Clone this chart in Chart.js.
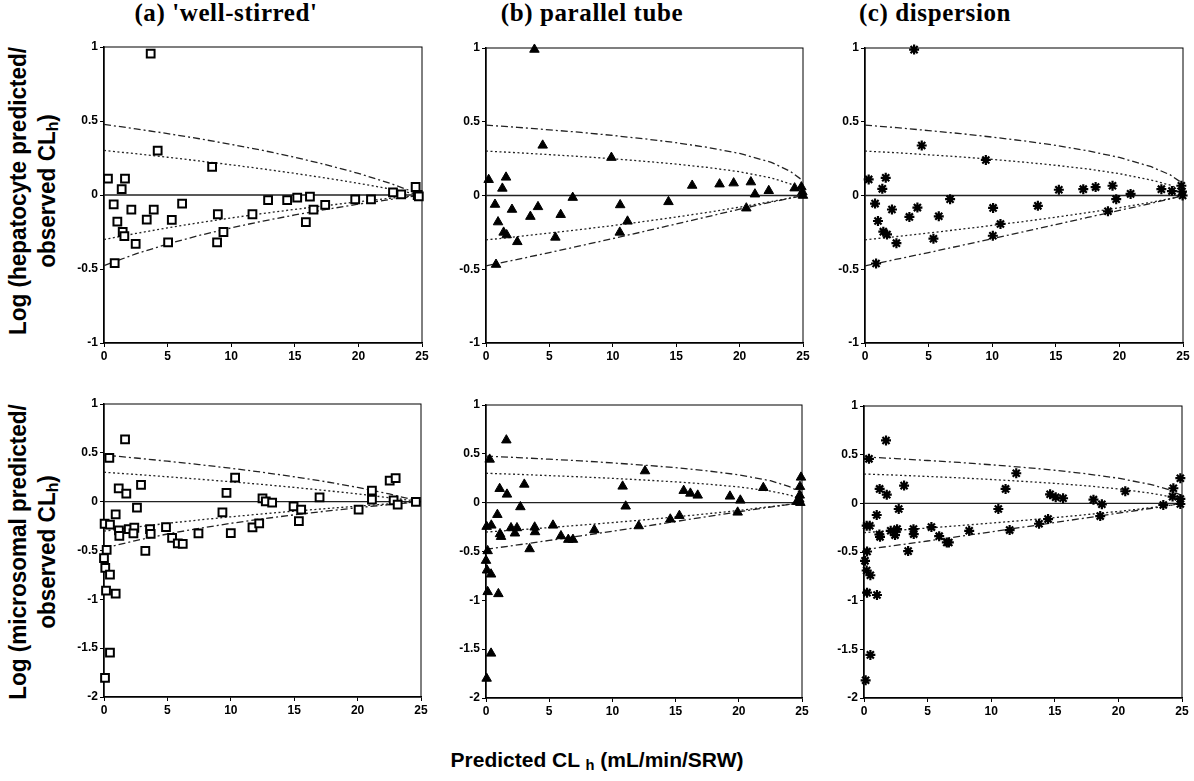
<!DOCTYPE html>
<html>
<head>
<meta charset="utf-8">
<script src="https://cdn.jsdelivr.net/npm/chart.js@4.4.1/dist/chart.umd.min.js"></script>
<style>
  body { margin:0; background:#fff; width:1194px; height:781px; position:relative; overflow:hidden;
         font-family:"Liberation Sans", Arial, sans-serif; color:#000; }
  canvas { position:absolute; }
  .title { position:absolute; top:-1px; font-family:"Liberation Serif", "Times New Roman", serif; font-weight:bold;
           font-size:25px; letter-spacing:0.6px; white-space:nowrap; transform:translateX(-50%); }
  .ylab { position:absolute; font-weight:bold; font-size:23px; line-height:29px; text-align:center; white-space:nowrap;
          transform:translate(-50%,-50%) rotate(-90deg) scaleX(0.98); }
  .xlab { position:absolute; left:597px; top:748px; font-weight:bold; font-size:21px; white-space:nowrap;
          transform:translateX(-50%); }
  sub { font-size:70%; vertical-align:-3px; }
</style>
</head>
<body>

<div class="title" style="left:226px">(a) 'well-stirred'</div>
<div class="title" style="left:592px">(b) parallel tube</div>
<div class="title" style="left:935px">(c) dispersion</div>

<div class="ylab" style="left:35px; top:191px">Log (hepatocyte predicted/<br>observed CL<sub>h</sub>)</div>
<div class="ylab" style="left:35px; top:552px">Log (microsomal predicted/<br>observed CL<sub>h</sub>)</div>
<div class="xlab">Predicted CL <sub>h</sub> (mL/min/SRW)</div>

<canvas id="pa"></canvas>
<canvas id="pb"></canvas>
<canvas id="pc"></canvas>
<canvas id="pd"></canvas>
<canvas id="pe"></canvas>
<canvas id="pf"></canvas>

<script>
// ---- tick labels ----
const xTicks = [0, 5, 10, 15, 20, 25];
const yTicksTop = [-1, -0.5, 0, 0.5, 1];
const yTicksBottom = [-2, -1.5, -1, -0.5, 0, 0.5, 1];

// ---- reference curves (2-fold and 3-fold limits) ----
const wsX   = [0, 2.5, 5, 7.5, 10, 12.5, 15, 17.5, 20, 22.5, 25];
const ws3Up = [0.477, 0.447, 0.415, 0.380, 0.342, 0.301, 0.255, 0.204, 0.146, 0.079, 0];
const ws2Up = [0.301, 0.279, 0.255, 0.230, 0.204, 0.176, 0.146, 0.114, 0.079, 0.041, 0];
const ws2Lo = [-0.301, -0.260, -0.222, -0.187, -0.155, -0.125, -0.097, -0.071, -0.046, -0.022, 0];
const ws3Lo = [-0.477, -0.398, -0.331, -0.273, -0.222, -0.176, -0.135, -0.097, -0.062, -0.030, 0];

const ptX   = [0, 2.5, 5, 7.5, 10, 12.5, 15, 17.5, 20, 22.5, 24, 25];
const pt3Up = [0.477, 0.462, 0.445, 0.428, 0.407, 0.384, 0.358, 0.326, 0.285, 0.225, 0.164, 0.10];
const pt2Up = [0.301, 0.290, 0.277, 0.264, 0.249, 0.232, 0.213, 0.190, 0.161, 0.119, 0.079, 0.035];
const pt2Lo = [-0.301, -0.279, -0.255, -0.230, -0.204, -0.176, -0.146, -0.114, -0.079, -0.041, -0.017, 0];
const pt3Lo = [-0.477, -0.433, -0.387, -0.340, -0.292, -0.243, -0.193, -0.143, -0.093, -0.045, -0.018, 0];

const dmX   = [0, 2.5, 5, 7.5, 10, 12.5, 15, 17.5, 20, 22.5, 24, 25];
const dm3Up = [0.477, 0.460, 0.440, 0.420, 0.396, 0.370, 0.340, 0.303, 0.258, 0.195, 0.140, 0.08];
const dm2Up = [0.301, 0.290, 0.276, 0.262, 0.245, 0.226, 0.205, 0.180, 0.148, 0.105, 0.070, 0.03];
const dm2Lo = [-0.301, -0.278, -0.254, -0.229, -0.203, -0.176, -0.147, -0.116, -0.083, -0.046, -0.021, 0];
const dm3Lo = [-0.477, -0.432, -0.387, -0.340, -0.293, -0.245, -0.197, -0.149, -0.101, -0.053, -0.023, 0];

const zeroX = [0, 25];
const zeroY = [0, 0];

// ---- hepatocyte data ----
const aX = [3.67, 4.22, 8.50, 0.31, 1.65, 1.39, 0.76, 2.15, 3.91, 6.14, 1.05, 3.36, 5.33, 8.95, 11.67, 1.47, 1.60, 2.49, 5.04, 8.89, 9.39, 0.84, 12.9, 14.4, 15.19, 16.19, 16.47, 15.87, 17.39, 19.75, 20.99, 22.72, 23.37, 24.5, 24.66, 24.75];
const aY = [0.955, 0.30, 0.19, 0.11, 0.11, 0.04, -0.063, -0.099, -0.099, -0.058, -0.18, -0.166, -0.168, -0.13, -0.13, -0.25, -0.278, -0.33, -0.32, -0.32, -0.25, -0.46, -0.034, -0.034, -0.018, -0.011, -0.099, -0.184, -0.067, -0.029, -0.029, 0.018, 0.004, 0.054, 0.0, -0.01];

const bX = [3.82, 4.47, 9.89, 0.21, 1.58, 1.29, 0.71, 2.05, 4.1, 6.84, 0.95, 3.5, 5.89, 10.58, 11.16, 1.39, 1.63, 2.47, 5.47, 10.55, 0.79, 14.39, 16.26, 18.42, 19.53, 20.89, 21.21, 22.3, 20.53, 24.34, 24.87, 24.95, 25.0];
const bY = [0.99, 0.34, 0.257, 0.107, 0.123, 0.048, -0.061, -0.095, -0.077, -0.014, -0.18, -0.143, -0.13, -0.064, -0.175, -0.25, -0.268, -0.314, -0.284, -0.25, -0.468, -0.043, 0.068, 0.077, 0.084, 0.091, 0.009, 0.032, -0.086, 0.05, 0.057, 0.023, 0.0];

const cX = [3.86, 4.46, 9.5, 0.29, 1.63, 1.36, 0.79, 2.12, 4.12, 6.69, 1.02, 3.49, 5.8, 10.07, 10.65, 1.44, 1.73, 2.47, 5.38, 10.05, 0.87, 13.59, 15.24, 17.16, 18.13, 19.46, 19.75, 20.88, 19.1, 23.3, 24.13, 24.87, 24.92, 24.97];
const cY = [0.989, 0.339, 0.241, 0.109, 0.12, 0.045, -0.055, -0.095, -0.082, -0.025, -0.173, -0.145, -0.141, -0.084, -0.193, -0.245, -0.264, -0.323, -0.293, -0.273, -0.461, -0.07, 0.039, 0.043, 0.057, 0.066, -0.025, 0.011, -0.107, 0.043, 0.03, 0.066, 0.027, 0.0];

// ---- microsomal data ----
const dX = [1.66, 0.42, 10.34, 2.92, 1.16, 1.76, 9.66, 12.5, 12.76, 13.26, 17.0, 2.6, 0.92, 9.34, 14.95, 15.55, 15.37, 20.08, 21.13, 21.13, 22.53, 23.0, 22.84, 23.16, 24.6, 0.05, 0.47, 1.18, 1.21, 1.95, 2.39, 2.32, 3.63, 3.68, 4.89, 5.37, 5.82, 6.21, 7.45, 10.0, 11.71, 12.24, 3.26, 0.21, 0.0, 0.1, 0.47, 0.16, 0.92, 0.47, 0.08];
const dY = [0.637, 0.449, 0.247, 0.171, 0.137, 0.082, 0.089, 0.034, 0.003, -0.01, 0.045, -0.062, -0.13, -0.11, -0.048, -0.082, -0.199, -0.082, 0.113, 0.02, 0.216, 0.24, 0.014, -0.031, -0.003, -0.226, -0.236, -0.295, -0.35, -0.281, -0.267, -0.325, -0.281, -0.329, -0.26, -0.37, -0.428, -0.432, -0.325, -0.322, -0.264, -0.223, -0.503, -0.493, -0.579, -0.678, -0.747, -0.911, -0.942, -1.545, -1.805];

const eX = [1.61, 0.29, 12.58, 10.81, 3.03, 1.08, 1.66, 15.64, 16.17, 16.75, 19.3, 20.12, 21.94, 2.72, 11.05, 0.9, 0.05, 0.42, 1.98, 2.45, 2.29, 1.11, 1.19, 3.85, 3.88, 5.3, 5.93, 6.51, 6.88, 8.57, 3.45, 12.08, 14.58, 15.3, 19.91, 0.13, 0.0, 0.08, 0.4, 0.13, 0.98, 0.4, 0.05, 24.92, 24.84, 24.82, 24.79, 24.87, 24.6];
const eY = [0.64, 0.443, 0.324, 0.167, 0.187, 0.143, 0.085, 0.123, 0.095, 0.075, 0.065, 0.024, 0.153, -0.044, -0.037, -0.123, -0.245, -0.232, -0.259, -0.259, -0.313, -0.32, -0.348, -0.252, -0.3, -0.232, -0.341, -0.378, -0.378, -0.279, -0.474, -0.239, -0.17, -0.133, -0.099, -0.494, -0.593, -0.692, -0.733, -0.913, -0.934, -1.543, -1.80, 0.259, 0.164, 0.075, 0.034, 0.0, 0.01];

const fX = [1.73, 0.39, 11.97, 11.13, 3.15, 1.23, 1.79, 14.63, 15.07, 15.65, 18.04, 18.7, 20.54, 2.73, 10.56, 1.0, 0.21, 0.45, 2.1, 2.6, 2.44, 1.21, 1.26, 3.89, 3.91, 5.3, 5.91, 6.51, 6.67, 8.27, 3.47, 11.45, 13.76, 14.47, 18.57, 0.24, 0.08, 0.21, 0.5, 0.24, 1.02, 0.5, 0.13, 24.87, 24.32, 24.26, 23.53, 24.87, 24.87];
const fY = [0.646, 0.457, 0.309, 0.148, 0.182, 0.148, 0.089, 0.093, 0.062, 0.052, 0.038, -0.01, 0.124, -0.058, -0.058, -0.12, -0.23, -0.23, -0.282, -0.265, -0.326, -0.32, -0.344, -0.265, -0.316, -0.244, -0.337, -0.402, -0.402, -0.282, -0.491, -0.275, -0.21, -0.162, -0.131, -0.495, -0.591, -0.69, -0.739, -0.918, -0.942, -1.557, -1.818, 0.258, 0.155, 0.069, -0.017, 0.045, -0.007];

// ---- layout ----
const YW = 46, PT = 10, PR = 10, XH = 26;
const DASH_DOT = [7, 3, 2, 3];
const DOTTED = [2, 2.5];
const TICK_FONT = { family: '"Liberation Sans", Arial, sans-serif', size: 12, weight: 'bold' };

const markers = {
  square:   { pointStyle: 'rect', pointRadius: 5.5, pointBorderWidth: 2, pointBorderColor: '#000', pointBackgroundColor: '#fff' },
  triangle: { pointStyle: 'triangle', pointRadius: 5.5, pointBorderWidth: 1, pointBorderColor: '#000', pointBackgroundColor: '#000' },
  star:     { pointStyle: 'star', pointRadius: 5, pointBorderWidth: 2.2, pointBorderColor: '#000', pointBackgroundColor: '#000' }
};

const toPts = (xs, ys) => xs.map((x, i) => ({ x: x, y: ys[i] }));

function curve(xs, ys, dash) {
  return {
    data: toPts(xs, ys), showLine: true, borderColor: '#222', borderWidth: 1.3,
    borderDash: dash, pointRadius: 0, fill: false, clip: false
  };
}

const framePlugin = {
  id: 'frame',
  beforeDatasetsDraw(chart) {
    const { ctx, chartArea: a } = chart;
    ctx.save();
    ctx.strokeStyle = '#000';
    ctx.lineWidth = 1;
    ctx.strokeRect(a.left, a.top, a.right - a.left, a.bottom - a.top);
    ctx.restore();
  }
};

function panel(id, box, xs, ys, marker, curves, yTicks) {
  const cv = document.getElementById(id);
  const w = (box.r - box.l) + YW + PR;
  const h = (box.b - box.t) + PT + XH;
  cv.width = w; cv.height = h;
  cv.style.left = (box.l - YW) + 'px';
  cv.style.top = (box.t - PT) + 'px';
  cv.style.width = w + 'px';
  cv.style.height = h + 'px';

  const datasets = [
    Object.assign({ data: toPts(xs, ys), showLine: false, clip: false }, markers[marker]),
    curve(zeroX, zeroY, []),
    curve(curves.x, curves.up3, DASH_DOT),
    curve(curves.x, curves.up2, DOTTED),
    curve(curves.x, curves.lo2, DOTTED),
    curve(curves.x, curves.lo3, DASH_DOT)
  ];

  new Chart(cv, {
    type: 'scatter',
    data: { datasets },
    options: {
      responsive: false,
      animation: false,
      events: [],
      layout: { autoPadding: false, padding: { top: PT, right: PR, left: 0, bottom: 0 } },
      plugins: { legend: { display: false }, tooltip: { enabled: false } },
      scales: {
        x: {
          type: 'linear', min: 0, max: 25,
          afterBuildTicks: ax => { ax.ticks = xTicks.map(v => ({ value: v })); },
          afterFit: ax => { ax.height = XH; },
          ticks: { font: TICK_FONT, color: '#000', padding: 2, maxRotation: 0, callback: v => String(v) },
          grid: { drawOnChartArea: false, drawTicks: true, tickLength: 4, color: '#000' },
          border: { color: '#000', width: 1.5 }
        },
        y: {
          type: 'linear', min: yTicks[0], max: yTicks[yTicks.length - 1],
          afterBuildTicks: ax => { ax.ticks = yTicks.map(v => ({ value: v })); },
          afterFit: ax => { ax.width = YW; },
          ticks: { font: TICK_FONT, color: '#000', padding: 2, callback: v => String(v) },
          grid: { drawOnChartArea: false, drawTicks: true, tickLength: 4, color: '#000' },
          border: { color: '#000', width: 1.5 }
        }
      }
    },
    plugins: [framePlugin]
  });
}

const wsCurves = { x: wsX, up3: ws3Up, up2: ws2Up, lo2: ws2Lo, lo3: ws3Lo };
const ptCurves = { x: ptX, up3: pt3Up, up2: pt2Up, lo2: pt2Lo, lo3: pt3Lo };
const dmCurves = { x: dmX, up3: dm3Up, up2: dm2Up, lo2: dm2Lo, lo3: dm3Lo };

panel('pa', { l: 104, r: 422, t: 47, b: 343 }, aX, aY, 'square', wsCurves, yTicksTop);
panel('pb', { l: 486, r: 803, t: 48, b: 343 }, bX, bY, 'triangle', ptCurves, yTicksTop);
panel('pc', { l: 865, r: 1183, t: 48, b: 343 }, cX, cY, 'star', dmCurves, yTicksTop);
panel('pd', { l: 104, r: 421, t: 404, b: 697 }, dX, dY, 'square', wsCurves, yTicksBottom);
panel('pe', { l: 486, r: 802, t: 405, b: 698 }, eX, eY, 'triangle', ptCurves, yTicksBottom);
panel('pf', { l: 864, r: 1182, t: 406, b: 698 }, fX, fY, 'star', dmCurves, yTicksBottom);
</script>
</body>
</html>
